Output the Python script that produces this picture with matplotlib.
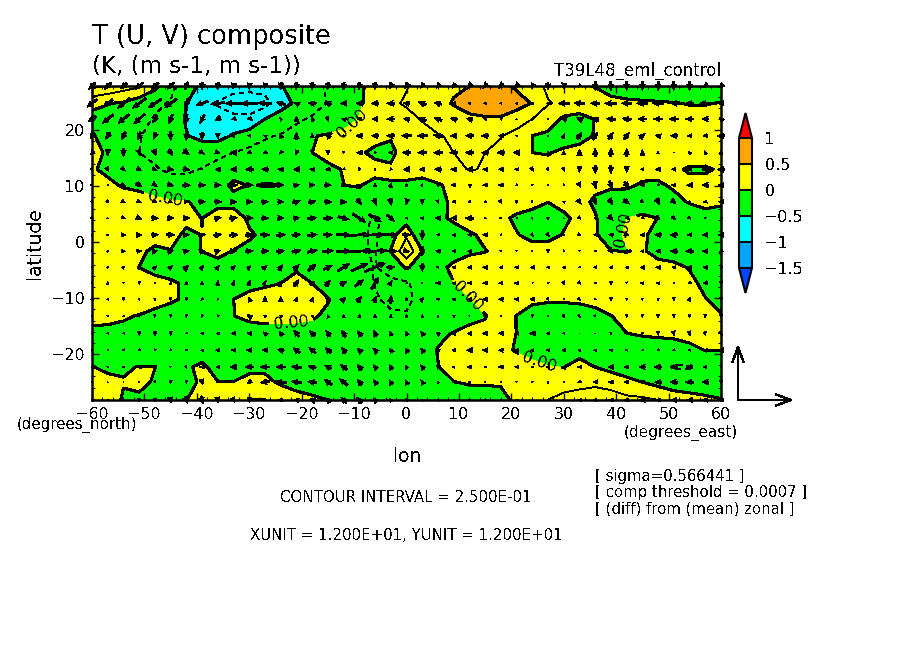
"""T (U, V) composite: filled temperature anomaly with wind arrows."""
import matplotlib
matplotlib.use("Agg")
import matplotlib.pyplot as plt
import numpy as np

plt.rcParams["text.antialiased"] = False
plt.rcParams["font.family"] = ["DejaVu Sans"]
plt.rcParams["lines.dashed_pattern"] = (6, 6)

W, H = 904, 654

lons = list(range(-60, 61, 3))
# top row first
lats = [27.9, 24.8, 22, 19, 16, 13, 10.2, 7.2, 4.3, 1.3,
        -1.6, -4.5, -7.3, -10.2, -13.2, -16.3, -19.3, -22.3, -25, -28.2]

# temperature anomaly, hundredths of K
t_rows = [
    [55,45,36,28,6,-18,-40,-55,-62,-67,-68,-65,-51,-43,-33,-22,-12,-4,11,17,24,32,40,46,50,57,58,46,32,22,14,4,-1,-10,-12,-14,-15,-17,-18,-18,-15],
    [5,1,-3,-14,-20,-27,-49,-70,-77,-85,-88,-84,-57,-47,-35,-24,-15,-3,10,22,27,35,42,52,60,65,65,60,49,26,22,15,11,7,4,3,2,1,-1,-1,1],
    [-6,-9,-13,-18,-27,-38,-52,-60,-66,-70,-70,-50,-42,-29,-22,-17,-10,1,8,15,20,26,32,38,45,47,47,37,25,16,-5,-8,1,6,7,8,9,9,8,7,6],
    [2,-8,-14,-24,-30,-36,-49,-57,-60,-47,-38,-28,-23,-16,-1,2,6,10,13,2,16,20,24,27,32,30,26,17,0,-6,-8,-6,1,6,8,9,10,10,9,8,7],
    [7,-3,-8,-25,-30,-33,-35,-35,-30,-25,-19,-15,-12,-8,0,3,8,5,-8,-5,10,15,20,25,30,25,20,12,0,-1,3,6,8,10,11,11,10,9,9,8,8],
    [3,-6,-10,-14,-23,-29,-29,-24,-18,-12,-10,-8,-7,-6,-5,-2,0.5,10,12,3,12,13,15,20,26,24,14,10,8,6,6,7,7,7,7,6,5,3,-2,-2,2],
    [20,6,-3,-7,-13,-15,-15,-12,-10,5,-1,1,0.1,-5,-6,-5,-0.1,2,-10,-1.3,-5,-11,-2,5,12,12,11,10,9,8,7,5,3,2,3,-2,-2,2,5,5,6],
    [20,18,15,12,6,2,1,-4,-8,-8,-8,-8,-9,-10,-10,-10,-12,-12,-14,-14,-12,-10,-6,4,10,12,11,9,5,0.2,5,4,-2,-6,-10,-10,-12,-4,1,6,2],
    [22,20,18,15,13,10,4,-0.3,12,12,-4,-8,-10,-12,-14,-16,-18,-20,-27,-20,-14,-14,-4,3,8,9,4,-3,-6,-6,-3,4,1,-8,0,3,-0.2,-6,-8,-8,-6],
    [20,18,14,10,6,5,-3,0.3,12,15,3,-5,-8,-10,-13,-16,-18,-22,-28,-10,20,-26,-15,-8,-2,3,5,1,-5,-5,1,5,1,-5,2,2,-4,-8,-8,-9,-9],
    [18,15,10,3,-3,-0.5,-4,0.3,6,-1,-6,-8,-10,-12,-14,-16,-18,-22,-27,1,45,0.5,-5,-6,-2,-0.5,3,6,7,7,7,6,4,0.3,-0.3,1,-3,-4,-6,-7,-8],
    [18,15,10,-0.2,-8,-10,-9,-8,-8,-8,-10,-10,-9,-3,-8,-10,-12,-18,-26,-16,3,-14,-4,3,6,7,8,8,8,8,8,7,6,5,4,3,3,2,-0.5,-3,-5],
    [18,16,14,12,8,3,-3,-8,-8,-8,-6,-3,-0.2,7,-0.2,-8,-12,-18,-26,-30,-28,-14,-3,-0.2,5,8,10,10,10,10,10,9,8,7,6,5,5,4,2,-2,-5],
    [16,14,13,12,9,3,-3,-5,-3,-0.1,6,8,10,12,8,1,-8,-15,-22,-32,-32,-14,-7,-5,-0.5,5,9,4,2,1,1,1.5,2,5,7,7,6,4,2,0.3,-2],
    [10,5,2,-1,-7,-10,-10,-6,-4,-0.2,3,5,5,4,2,-3,-8,-12,-15,-20,-22,-10,-8,-6,-3,-0.5,5,-0.2,-4,-4,-4,-4,-2,-0.2,3,5,5,5,4,3,0.5],
    [-8,-5,-5,-8,-10,-10,-10,-9,-8,-8,-6,-6,-6,-6,-6,-8,-8,-10,-12,-13,-15,-10,-2,0.5,3,2,6,-0.2,-3,-4,-4,-4,-4,-2,-0.1,1,2,3,4,5,5],
    [-6,-8,-8,-7,-7,-8,-8,-8,-8,-7,-7,-7,-7,-8,-9,-10,-10,-12,-12,-12,-12,-5,0.5,3,5,5,3,-1,-4,-5,-6,-6,-6,-6,-6,-5,-6,-6,-3,0.3,0.5],
    [1,-6,-1,0.3,0.3,-6,-2,3,-6,-7,-5,-4,-8,-10,-12,-12,-12,-12,-12,-10,-12,-6,-0.3,3,5,8,8,6,3,0.5,-0.3,6,-0.2,-8,-10,-12,-15,-27,-27,-15,-12],
    [12,8,0.5,5,-2,-8,-6,3,0.3,0.3,6,5,-3,-8,-8,-10,-12,-10,-10,-9,-10,-7,-3,-0.2,0.8,0.8,1.5,8,12,15,18,18,20,16,5,-0.2,-8,-14,-15,-14,-12],
    [15,5,-1,-4,-6,-4,-0.2,5,8,12,26,26,15,8,3,-0.2,-8,-10,-10,-8,-8,-6,-5,-4,-4,-4,-4,3,10,25.2,30,35,38,36,32,30,25,15,10,5,1],
]

# zonal wind (WIND_DIV of these = 1 m/s)
u_rows = [
    [-12,-12,-12,-14,-14,-12,-6,-2,-2,-2,-2,-2,-2,-2,-2,-2,-2,-2,-2,-4,-6,-6,-6,-6,-8,-8,-8,-8,-4,0,-2,-4,0,0,0,0,0,0,0,-8,-8],
    [-18,-18,-22,-24,-24,-22,-6,-22,-26,-30,-30,-24,-16,-10,-14,-12,-12,-12,-14,-14,-12,-14,-14,-8,-5,-5,-4,-4,-3,-6,-20,-20,-16,-22,-18,-20,-20,-12,-14,-20,-10],
    [-14,-20,-20,-20,-8,-6,-3,-8,-10,-8,-8,-5,-3,0,-3,3,-8,-8,-10,-14,-10,-14,-14,-12,-10,-5,-3,0,-2,0,-10,-10,-12,-16,-16,-16,-16,-16,-14,-12,-6],
    [-6,-8,-8,-6,-4,0,0,0,0,3,-6,-6,-3,0,0,-6,2,-12,-12,-14,-18,-18,-16,-12,-14,-14,-8,-3,0,0,3,8,8,8,10,10,-10,-12,-8,-8,-14],
    [-4,0,0,3,4,6,10,8,8,-12,-6,-6,-4,-2,0,0,0,-10,-2,-8,-15,-16,-16,-14,-14,-12,-14,-12,-3,0,0,0,0,0,0,0,0,0,-3,-3,0],
    [3,4,6,8,8,12,12,-2,-10,-12,-14,-12,-10,-12,-8,-8,-4,-2,0,-3,-12,-10,-12,-10,-12,-8,-8,-6,4,3,2,0,0,0,0,-6,-10,-8,-8,-14,-14],
    [2,-2,8,10,8,10,14,12,12,14,14,14,12,10,10,12,8,6,0,2,0,2,-2,-8,-5,-8,-8,-3,0,0,-2,4,3,6,8,-8,-4,-8,-10,-12,-10],
    [2,4,6,8,7,6,8,12,14,12,12,12,10,14,14,14,12,8,4,3,-3,0,2,-6,-4,-4,3,0,2,-2,-3,6,4,6,10,5,6,8,-2,-6,-8],
    [4,2,6,10,12,12,12,6,12,14,14,12,12,12,16,18,20,24,22,14,-4,-6,-10,-10,-14,-3,2,-2,2,4,0,5,-2,8,-6,-5,6,6,4,-2,-3],
    [2,3,8,10,12,14,10,12,14,16,14,16,16,16,18,16,26,36,36,26,14,0,-4,-5,-6,-8,-3,0,3,5,4,5,-5,-8,8,-8,-12,-14,-8,-10,-10],
    [1,2,6,8,10,10,10,10,10,12,14,14,14,16,18,20,26,45,42,24,10,0,-8,-6,-6,-4,1,0,1,0,-2,0,-3,6,-3,-6,-8,-12,-14,-10,-6],
    [0,2,3,4,6,6,8,6,6,6,6,8,8,10,14,16,22,30,38,14,0,0,2,-6,-8,-8,-6,-6,-7,-5,-5,-3,-6,-6,-5,-8,-8,-6,-8,-8,-3],
    [-1,0,0,0,0,0,0,0,1,2,3,4,8,8,8,10,12,16,14,5,-2,0,-8,-6,-6,-8,-7,-7,-1,-2,3,4,-2,0,1,-6,-5,-2,-4,-8,0],
    [-4,-4,0,0,0,0,0,-4,0,0,-4,0,0,2,3,6,8,8,4,2,0,6,-4,-6,-6,-8,-8,-8,-8,3,-2,3,-2,0,0,0,0,0,2,-1,0],
    [1,2,-2,2,0,0,0,-2,-2,0,-8,-4,-4,0,-3,-2,0,0,0,0,0,0,-2,-4,0,-6,0,0,0,0,2,2,2,4,0,0,0,0,0,0,0],
    [-2,-3,-4,0,0,0,-3,-4,-5,-8,-8,-6,-6,-10,-10,-8,-8,-8,-5,-3,-3,-6,-6,-8,-8,-10,-8,-8,-10,-6,-3,-1,0,0,3,0,0,2,2,2,4],
    [-2,-2,-4,-3,-2,-3,-3,-4,-7,-8,-10,-10,-12,-12,-12,-10,-8,-8,-8,-5,-5,-6,-6,-6,-10,-10,-8,-8,-6,-6,-6,-5,-5,-5,-4,-2,-3,-4,-5,-8,-10],
    [-2,-3,-4,-8,-2,0,2,-8,-6,-12,-14,-16,-16,-18,-14,-12,-12,-8,-6,-4,-3,-6,-4,-4,-8,-4,-8,-6,-4,-6,-8,-6,-5,-10,-8,-12,-14,-12,-10,-6,-3],
    [0,0,-1,-2,2,0,0,2,2,-2,-8,-16,-20,-18,-16,-14,-14,-8,-6,-4,-4,-5,-2,-6,-4,-2,0,0,0,0,-2,-6,-8,-8,-8,-8,-12,-14,-14,-12,0],
    [0,0,0,0,0,2,4,4,2,4,0,-4,-8,-8,-10,-10,-10,-10,-6,-4,-2,-2,-2,-2,-3,-3,-3,-2,-1,-2,-3,-6,-6,-8,-8,-10,-8,-10,-10,-10,-8],
]

# meridional wind, same reading units
v_rows = [
    [-12,-12,-10,-12,-12,-12,-14,-14,-14,-10,-10,-10,-12,-14,-14,-14,-14,-14,-14,-10,-10,-8,-8,-8,-8,-8,-8,-8,-8,-14,-10,-4,-16,-16,-16,-16,-16,-16,-16,-6,-6],
    [-14,-14,-18,-18,-16,-16,-18,-8,-3,0,0,2,4,5,2,4,0,0,0,0,2,5,3,0,0,0,0,0,0,0,0,2,0,0,0,0,0,0,0,0,0],
    [-10,-16,-16,-18,-14,-16,-18,-16,-6,-3,-3,2,5,10,8,-8,3,0,0,0,3,7,5,3,3,2,2,3,2,3,3,5,5,2,2,0,0,0,0,0,6],
    [-10,-12,-14,-14,-12,-16,-16,-14,-10,-8,0,3,8,12,8,8,-3,0,0,0,0,0,3,0,0,0,0,0,-3,3,8,12,14,12,12,8,2,0,0,-2,0],
    [-8,-12,-14,-10,-10,-12,-8,-6,-4,0,-3,-4,-6,-8,-6,-8,-3,0,-3,0,0,0,0,0,0,0,0,0,2,4,8,12,16,16,14,10,5,1,5,6,8],
    [-5,-8,-6,-4,-3,-2,-2,0,0,0,0,0,0,0,0,-1,-2,-4,-4,-3,0,0,0,0,0,0,0,0,-6,-5,-6,-10,-14,-14,-10,0,0,0,0,0,0],
    [-2,-1,-4,-7,-5,-3,0,0,0,0,0,0,0,2,1,0,0,3,6,8,6,5,4,0,3,0,0,-2,-3,-3,-3,-8,-12,-14,-12,0,-3,0,0,0,0],
    [-2,-4,-4,-3,-2,-2,0,0,0,0,0,0,0,4,3,0,0,-10,-12,-12,-10,-8,-6,-1,-2,-1,-6,-6,-3,3,2,-8,-9,-10,-8,-4,-10,-6,-2,-1,0],
    [-1,-1,-3,-4,-1,-1,0,4,3,3,0,0,0,2,2,0,-6,-16,-14,-12,0,0,0,0,0,-1,-2,1,2,3,2,-4,0,-8,-1,-2,-6,-5,-4,1,2],
    [0,0,0,0,0,0,0,3,2,1,2,0,1,2,2,0,0,2,1,0,0,-18,0,0,0,0,-1,0,-5,-5,-2,-3,0,1,-3,0,0,0,-1,0,0],
    [1,2,0,1,2,3,3,3,3,0,1,1,2,4,4,1,1,2,3,-1,-3,-18,1,0,0,0,-3,-3,-3,-5,-3,-3,-1,-8,-2,0,0,0,0,0,-4],
    [2,2,4,3,5,6,8,6,7,6,6,6,10,10,12,8,14,14,16,2,-2,-14,-3,0,0,0,0,0,0,0,0,-2,0,0,0,0,0,0,0,0,-3],
    [-1,5,-3,-4,-3,5,6,6,8,8,8,8,10,12,4,10,6,12,22,8,-1,-3,0,1,0,0,0,0,-2,-2,-6,-4,-2,-6,-3,0,0,-2,-3,-2,-6],
    [0,0,-5,-3,-4,-5,-5,-3,-3,0,8,10,10,8,8,2,8,10,12,14,6,6,1,1,0,0,0,0,0,-4,-1,-4,-2,-5,-4,-4,-4,-5,6,-2,-5],
    [1,1,-2,2,-4,-4,-4,-4,-3,-2,6,3,3,0,3,6,6,6,6,6,6,5,2,2,-2,0,-3,-3,-4,-3,-5,-4,-3,-3,-5,-4,-6,-6,-5,-6,-7],
    [0,0,-1,-6,-8,-6,-1,0,0,0,1,6,8,12,10,10,12,10,10,8,8,7,5,1,0,0,0,0,0,0,0,0,-1,-4,-4,-5,-6,-8,-8,-6,-6],
    [0,0,-1,-2,-3,-2,0,0,0,0,0,0,3,10,10,10,10,8,8,8,8,8,3,0,0,0,0,0,0,0,0,0,0,0,0,-2,-2,-1,0,2,0],
    [1,1,0,0,-2,-3,-4,0,0,0,0,0,0,3,4,6,10,10,8,8,6,8,6,1,0,0,0,0,0,0,2,0,0,0,0,0,0,0,-2,0,0],
    [2,2,1,0,-3,-6,-5,-10,-2,0,-4,-3,2,3,3,10,12,10,9,8,8,8,3,0,0,0,-2,-3,-3,-4,-2,-2,-1,0,0,0,0,0,0,0,-6],
    [-2,-3,-3,-6,-6,-10,-12,-14,-10,-8,-8,-2,0,2,3,8,10,10,8,6,4,3,2,0,-2,-2,0,0,0,0,0,0,0,0,0,0,0,0,0,0,0],
]

fill_levels = [-1.5, -1, -0.5, 0, 0.5, 1]
fill_colors = ["#0046ff", "#00a5ff", "#00ffff", "#00ff00", "#ffff00", "#ffa500", "#ff0000"]
thick_levels = [-0.5, 0.5]
thin_levels = [-0.75, -0.25, 0.25]
cbar_labels = ["\u22121.5", "\u22121", "\u22120.5", "0", "0.5", "1"]
label_spots = [(-11, 22), (-46, 7.8), (-22, -13.8), (11.5, -9.8), (25.5, -21), (43, 1.8)]

XUNIT = 12.0
PX_PER_MS = 4.6
WIND_DIV = 8.5


def fx(x):
    return x / W


def fy(y):
    return 1 - y / H


t = np.array(t_rows) / 100
u = np.array(u_rows) / WIND_DIV
v = np.array(v_rows) / WIND_DIV

fig = plt.figure(figsize=(W / 100, H / 100), dpi=100)
ax = fig.add_axes([fx(92), fy(400), 629 / W, 314 / H])

cf = ax.contourf(lons, lats, t, levels=fill_levels, colors=fill_colors, extend="both",
                 antialiased=False)
ax.contour(lons, lats, t, levels=thick_levels, colors="k", linewidths=1.5,
           linestyles="solid", antialiased=False)
cs0 = ax.contour(lons, lats, t, levels=[0], colors="k", linewidths=1.5,
                 linestyles="solid", antialiased=False)
ax.contour(lons, lats, t, levels=thin_levels, colors="k", linewidths=0.6,
           linestyles=["dashed", "dashed", "solid"], antialiased=False)
labels = ax.clabel(cs0, fmt="%.2f", manual=label_spots, fontsize=11.5, colors="k")

ax.quiver(lons, lats, u, v, angles="uv", scale_units="dots", scale=1 / PX_PER_MS,
          units="dots", width=1.9, headwidth=2.8, headlength=3.2, headaxislength=2.8,
          minlength=0, pivot="mid", color="k", clip_on=False, zorder=4,
          antialiased=False)

ax.set_xlim(-60, 60)
ax.set_ylim(-28.2, 27.9)
ax.set_xticks(range(-60, 61, 10))
ax.set_yticks(range(-20, 21, 10))
ax.set_xticks(range(-60, 61, 2), minor=True)
ax.set_yticks(range(-28, 28, 2), minor=True)
ax.tick_params(which="major", direction="in", length=5, width=1, top=True, right=True,
               labelsize=11.5, pad=5)
ax.tick_params(which="minor", direction="in", length=2.5, width=0.8, top=True, right=True)
for sp in ax.spines.values():
    sp.set_linewidth(1.8)
    sp.set_zorder(5)

# colour bar, the axes box also holds the two end triangles
cax = fig.add_axes([fx(739), fy(293), 13 / W, 180 / H])
cb = fig.colorbar(cf, cax=cax, extend="both", extendfrac=25 / 129, drawedges=True)
cb.set_ticks(fill_levels, labels=cbar_labels)
cb.ax.tick_params(length=0, labelsize=11.5, pad=9)
cb.outline.set_linewidth(1.5)
cb.dividers.set_linewidth(1.5)
cb.dividers.set_color("k")

# wind key
key = (738, H - 400)
key_len = XUNIT * PX_PER_MS
arrow = dict(arrowstyle="->,head_length=1.1,head_width=0.4", lw=1, color="k",
             shrinkA=0, shrinkB=0, antialiased=False)
ax.annotate("", xy=(key[0] + key_len, key[1]), xytext=key, xycoords="figure pixels",
            textcoords="figure pixels", arrowprops=arrow, annotation_clip=False)
ax.annotate("", xy=(key[0], key[1] + key_len), xytext=key, xycoords="figure pixels",
            textcoords="figure pixels", arrowprops=arrow, annotation_clip=False)

fig.text(fx(92), fy(37), "T (U, V) composite", fontsize=18.5, va="center")
fig.text(fx(92), fy(67), "(K, (m s-1, m s-1))", fontsize=16.5, va="center")
fig.text(fx(721), fy(71), "T39L48_eml_control", fontsize=12, va="center", ha="right")
fig.text(fx(35), fy(243), "latitude", fontsize=13.5, rotation=90, va="center", ha="center")
fig.text(fx(407), fy(457), "lon", fontsize=13.5, va="center", ha="center")
fig.text(fx(77), fy(425), "(degrees_north)", fontsize=10.8, va="center", ha="center")
fig.text(fx(681), fy(433), "(degrees_east)", fontsize=11, va="center", ha="center")
fig.text(fx(406), fy(497), "CONTOUR INTERVAL = 2.500E-01", fontsize=10.8, va="center", ha="center")
fig.text(fx(406), fy(535), "XUNIT = 1.200E+01, YUNIT = 1.200E+01", fontsize=10.8, va="center", ha="center")
fig.text(fx(595), fy(477), "[ sigma=0.566441 ]", fontsize=10.7, va="center")
fig.text(fx(595), fy(493), "[ comp threshold = 0.0007 ]", fontsize=10.7, va="center")
fig.text(fx(595), fy(509), "[ (diff) from (mean) zonal ]", fontsize=10.7, va="center")

fig.savefig("out.png", dpi=100)
